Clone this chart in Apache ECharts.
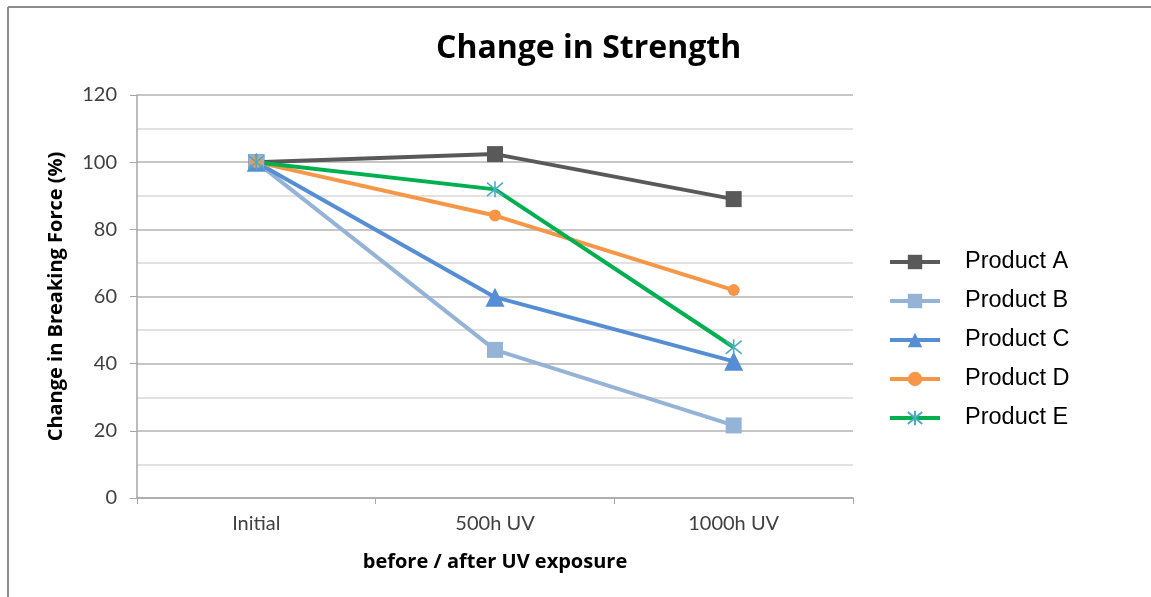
<!DOCTYPE html>
<html>
<head>
<meta charset="utf-8">
<script src="https://cdn.jsdelivr.net/npm/echarts@6/dist/echarts.min.js"></script>
<style>
html,body{margin:0;padding:0;background:#fff;}
#chart{width:1151px;height:597px;}
</style>
</head>
<body>
<div id="chart"></div>
<script>
const categories = ['Initial', '500h UV', '1000h UV'];
const productA = [100, 102.4, 89.0];
const productB = [100, 44.1, 21.6];
const productC = [100, 59.8, 40.7];
const productD = [100, 84.1, 61.9];
const productE = [100, 91.9, 44.9];
const seriesNames = ['Product A', 'Product B', 'Product C', 'Product D', 'Product E'];

const labelFont = 'Lato, "Open Sans", sans-serif';
const boldFont = '"Open Sans", Lato, sans-serif';
const asterisk = 'path://M0,0L10,10M10,0L0,10M5,-1L5,11';

const chart = echarts.init(document.getElementById('chart'));
chart.setOption({
  animation: false,
  title: {
    text: 'Change in Strength',
    left: 431,
    top: 28,
    textStyle: {fontFamily: boldFont, fontWeight: 'bold', fontSize: 32, color: '#000'}
  },
  graphic: [
    {type: 'line', shape: {x1: 8, y1: 7, x2: 1151, y2: 7}, style: {stroke: '#8c8c8c', lineWidth: 2}},
    {type: 'line', shape: {x1: 8, y1: 7, x2: 8, y2: 597}, style: {stroke: '#8c8c8c', lineWidth: 2}}
  ],
  grid: {left: 137, right: 298, top: 95, bottom: 99},
  legend: {
    orient: 'vertical',
    left: 888,
    top: 250,
    padding: 0,
    itemWidth: 50,
    itemHeight: 18,
    itemGap: 15,
    data: seriesNames,
    lineStyle: {width: 4},
    textStyle: {fontFamily: '"Liberation Sans", Arial, sans-serif', fontSize: 23.5, color: '#000', padding: [0, 0, 0, 20]}
  },
  xAxis: {
    type: 'category',
    data: categories,
    boundaryGap: true,
    name: 'before / after UV exposure',
    nameLocation: 'middle',
    nameGap: 54,
    nameTextStyle: {fontFamily: boldFont, fontWeight: 'bold', fontSize: 20, color: '#000'},
    axisLine: {lineStyle: {color: '#a6a6a6', width: 1.5}},
    axisTick: {show: true, length: 6, lineStyle: {color: '#a6a6a6'}},
    axisLabel: {fontFamily: labelFont, fontSize: 20, color: '#404040', margin: 16}
  },
  yAxis: {
    type: 'value',
    min: 0,
    max: 120,
    interval: 20,
    name: 'Change in Breaking Force (%)',
    nameLocation: 'middle',
    nameGap: 71,
    nameTextStyle: {fontFamily: boldFont, fontWeight: 'bold', fontSize: 20, color: '#000'},
    axisLine: {show: true, lineStyle: {color: '#a6a6a6', width: 1.5}},
    axisTick: {show: true, length: 7, lineStyle: {color: '#a6a6a6'}},
    axisLabel: {fontFamily: labelFont, fontSize: 20, color: '#404040', margin: 20},
    splitLine: {lineStyle: {color: '#b3b3b3', width: 1.5}},
    minorTick: {show: false, splitNumber: 2},
    minorSplitLine: {show: true, lineStyle: {color: '#d9d9d9', width: 1.5}}
  },
  series: [
    {name: 'Product A', type: 'line', data: productA, symbol: 'rect', symbolSize: 16,
     lineStyle: {color: '#595959', width: 4}, itemStyle: {color: '#595959'}},
    {name: 'Product B', type: 'line', data: productB, symbol: 'rect', symbolSize: 16,
     lineStyle: {color: '#95b3d7', width: 4}, itemStyle: {color: '#95b3d7'}},
    {name: 'Product C', type: 'line', data: productC, symbol: 'triangle', symbolSize: 19,
     lineStyle: {color: '#558ed5', width: 4}, itemStyle: {color: '#558ed5'}},
    {name: 'Product D', type: 'line', data: productD, symbol: 'circle', symbolSize: 12,
     lineStyle: {color: '#f79646', width: 4}, itemStyle: {color: '#f79646'}},
    {name: 'Product E', type: 'line', data: productE, symbol: asterisk, symbolSize: 16,
     lineStyle: {color: '#00b050', width: 4},
     itemStyle: {color: 'rgba(0,0,0,0)', borderColor: '#4bacc6', borderWidth: 1.6}}
  ]
});
</script>
</body>
</html>
